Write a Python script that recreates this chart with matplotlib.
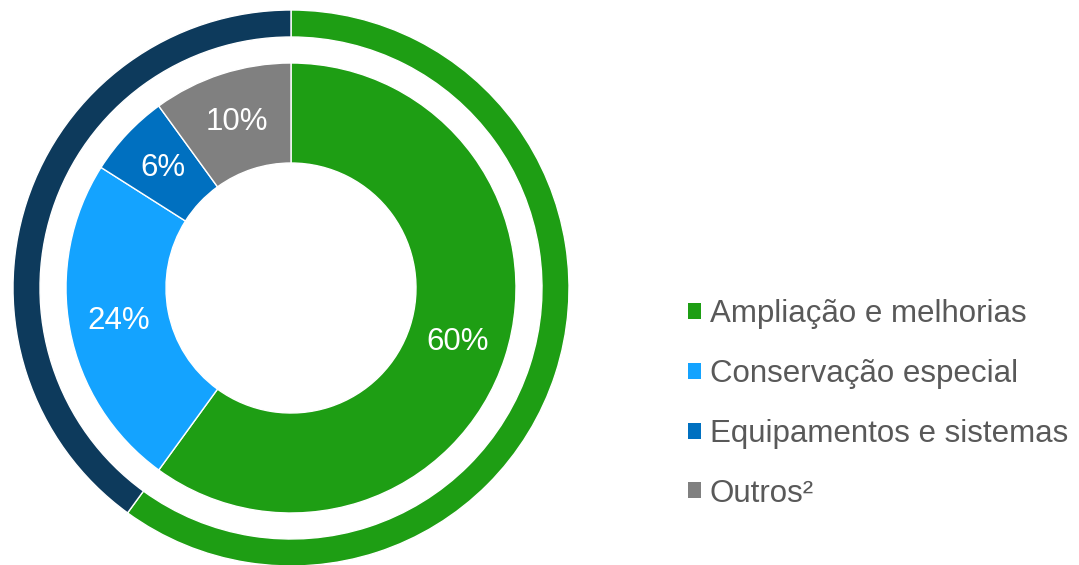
import matplotlib
matplotlib.use("Agg")
import matplotlib.pyplot as plt
from matplotlib.patches import Patch

categories = ["Ampliação e melhorias", "Conservação especial", "Equipamentos e sistemas", "Outros²"]
inner_values = [60, 24, 6, 10]
outer_values = [60, 40]

inner_colors = ["#1E9E14", "#14A3FF", "#0070C0", "#808080"]
outer_colors = ["#1E9E14", "#0D3A5C"]

plt.rcParams['font.family'] = ['Liberation Sans', 'DejaVu Sans']

W, H = 1079, 565
fig = plt.figure(figsize=(W / 100, H / 100), dpi=100)
cx, cy, R = 291, 565 - 288, 278
ax = fig.add_axes([(cx - R) / W, (cy - R) / H, 2 * R / W, 2 * R / H])

ax.pie(outer_values, radius=1.0, colors=outer_colors, startangle=90, counterclock=False,
       wedgeprops=dict(width=27 / R, edgecolor='white', linewidth=1.0))

r_in = 225 / R
w_in = 100 / R
wedges, texts, autotexts = ax.pie(
    inner_values, radius=r_in, colors=inner_colors, startangle=90, counterclock=False,
    autopct=lambda p: f"{p:.0f}%", pctdistance=(175 / 225),
    wedgeprops=dict(width=w_in, edgecolor='white', linewidth=1.0),
    textprops=dict(color='white', fontsize=22.5))

ax.set_xlim(-1, 1)
ax.set_ylim(-1, 1)
ax.set_aspect('equal')
ax.axis('off')

handles = [Patch(facecolor=c, edgecolor='none') for c in inner_colors]
fig.legend(handles, categories, loc='center left', bbox_to_anchor=(688 / W, (565 - 404) / H),
           frameon=False, fontsize=22.5, labelcolor='#595959', handlelength=0.4, handleheight=0.4,
           handletextpad=0.3, labelspacing=0.95, borderaxespad=0, borderpad=0)

fig.savefig("out.png", dpi=100)
